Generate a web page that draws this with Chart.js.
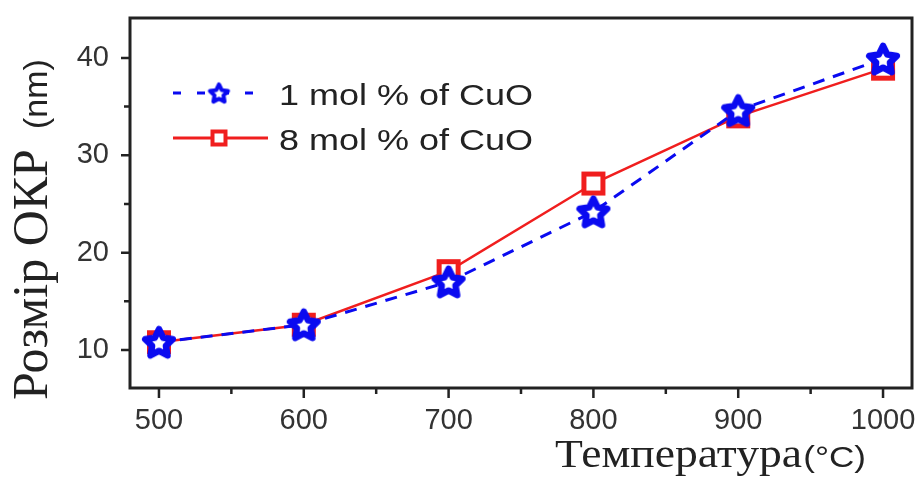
<!DOCTYPE html>
<html>
<head>
<meta charset="utf-8">
<script src="https://cdn.jsdelivr.net/npm/chart.js@4.4.1/dist/chart.umd.min.js"></script>
<style>
  html, body { margin: 0; padding: 0; background: #fff; }
  #wrap { width: 920px; height: 481px; }
</style>
</head>
<body>
<div id="wrap"><canvas id="sizeChart" width="920" height="481"></canvas></div>
<script>
// --- data ---
const temperatures = [500, 600, 700, 800, 900, 1000];
const size1mol = [10.8, 12.6, 17.0, 24.2, 34.6, 39.9];
const size8mol = [10.8, 12.6, 18.1, 27.1, 34.0, 38.9];
const seriesLabels = ['1 mol % of CuO', '8 mol % of CuO'];
const xTicks = [500, 600, 700, 800, 900, 1000];
const xMinorTicks = [550, 650, 750, 850, 950];
const yTicks = [10, 20, 30, 40];
const yMinorTicks = [15, 25, 35];

const BLUE = '#0a0af0';
const RED = '#f01e1e';
const INK = '#222';

// five-pointed star marker (Chart.js 'star' is an asterisk, so draw our own)
function makeStar(R, lw) {
    const size = Math.ceil(2 * R + lw + 2);
    const c = document.createElement('canvas');
    c.width = c.height = size;
    const ctx = c.getContext('2d');
    ctx.translate(size / 2, size / 2 + R * 0.1);
    ctx.beginPath();
    for (let i = 0; i < 10; i++) {
        const a = -Math.PI / 2 + i * Math.PI / 5;
        const r = i % 2 ? R * 0.5 : R;
        const px = Math.cos(a) * r, py = Math.sin(a) * r;
        i === 0 ? ctx.moveTo(px, py) : ctx.lineTo(px, py);
    }
    ctx.closePath();
    ctx.fillStyle = '#fff';
    ctx.fill();
    ctx.lineJoin = 'round';
    ctx.lineWidth = lw;
    ctx.strokeStyle = BLUE;
    ctx.stroke();
    return c;
}

function makeSquare(side, lw) {
    const size = Math.ceil(side + lw + 2);
    const c = document.createElement('canvas');
    c.width = c.height = size;
    const ctx = c.getContext('2d');
    const o = (size - side) / 2;
    ctx.fillStyle = '#fff';
    ctx.fillRect(o, o, side, side);
    ctx.lineWidth = lw;
    ctx.strokeStyle = RED;
    ctx.strokeRect(o, o, side, side);
    return c;
}

const starMark = makeStar(14.5, 6.5);
const squareMark = makeSquare(19, 5);
const starSmall = makeStar(9.5, 4);
const squareSmall = makeSquare(13, 4);

// frame, tick marks, axis titles and the inset legend
const decorPlugin = {
    id: 'decor',
    afterDraw(chart) {
        const { ctx, chartArea: a, scales } = chart;
        const xs = scales.x, ys = scales.y;
        ctx.save();
        ctx.strokeStyle = INK;
        ctx.lineWidth = 3;
        ctx.strokeRect(a.left, a.top, a.right - a.left, a.bottom - a.top);

        ctx.lineWidth = 2.5;
        ctx.beginPath();
        xTicks.forEach(v => { const p = xs.getPixelForValue(v); ctx.moveTo(p, a.bottom); ctx.lineTo(p, a.bottom + 10); });
        xMinorTicks.forEach(v => { const p = xs.getPixelForValue(v); ctx.moveTo(p, a.bottom); ctx.lineTo(p, a.bottom + 6); });
        yTicks.forEach(v => { const p = ys.getPixelForValue(v); ctx.moveTo(a.left, p); ctx.lineTo(a.left - 9, p); });
        yMinorTicks.forEach(v => { const p = ys.getPixelForValue(v); ctx.moveTo(a.left, p); ctx.lineTo(a.left - 6, p); });
        ctx.stroke();

        // y title: serif words + sans unit, rotated
        ctx.fillStyle = INK;
        ctx.textBaseline = 'alphabetic';
        ctx.textAlign = 'left';
        ctx.save();
        ctx.translate(47, 400);
        ctx.rotate(-Math.PI / 2);
        ctx.font = '50px "Liberation Serif", "Times New Roman", serif';
        ctx.fillText('Розмір ОКР', 0, 0);
        const w1 = ctx.measureText('Розмір ОКР').width;
        ctx.font = '34px "Liberation Sans", Arial, sans-serif';
        ctx.fillText('(nm)', w1 + 20, 0);
        ctx.restore();

        // x title
        ctx.save();
        ctx.translate(555, 467);
        ctx.scale(1.17, 1);
        ctx.font = '39px "Liberation Serif", "Times New Roman", serif';
        ctx.fillText('Температура', 0, 0);
        const w2 = ctx.measureText('Температура').width;
        ctx.font = '30px "Liberation Sans", Arial, sans-serif';
        ctx.fillText('(°C)', w2 + 1, 0);
        ctx.restore();

        // legend
        const rows = [
            { y: 93, color: BLUE, dash: [8, 16], mark: starSmall, width: 3, text: seriesLabels[0] },
            { y: 138, color: RED, dash: [], mark: squareSmall, width: 3, text: seriesLabels[1] }
        ];
        rows.forEach(r => {
            ctx.save();
            ctx.strokeStyle = r.color;
            ctx.lineWidth = r.width;
            ctx.setLineDash(r.dash);
            ctx.beginPath();
            ctx.moveTo(173, r.y);
            ctx.lineTo(268, r.y);
            ctx.stroke();
            ctx.restore();
            ctx.drawImage(r.mark, 219 - r.mark.width / 2, r.y - r.mark.height / 2);
            ctx.save();
            ctx.translate(279, r.y + 12);
            ctx.scale(1.2, 1);
            ctx.font = '30px "Liberation Sans", Arial, sans-serif';
            ctx.fillStyle = INK;
            ctx.fillText(r.text, 0, 0);
            ctx.restore();
        });
        ctx.restore();
    }
};

const ctx = document.getElementById('sizeChart').getContext('2d');
new Chart(ctx, {
    type: 'line',
    data: {
        datasets: [
            {
                label: seriesLabels[0],
                data: temperatures.map((t, i) => ({ x: t, y: size1mol[i] })),
                borderColor: BLUE,
                borderWidth: 3,
                borderDash: [12, 9],
                pointStyle: starMark,
                pointRadius: 15,
                fill: false,
                tension: 0
            },
            {
                label: seriesLabels[1],
                data: temperatures.map((t, i) => ({ x: t, y: size8mol[i] })),
                borderColor: RED,
                borderWidth: 2.5,
                pointStyle: squareMark,
                pointRadius: 13,
                fill: false,
                tension: 0
            }
        ]
    },
    options: {
        responsive: false,
        animation: false,
        devicePixelRatio: 1,
        layout: { autoPadding: false, padding: { left: 0, top: 18, right: 8, bottom: 0 } },
        plugins: { legend: { display: false }, tooltip: { enabled: false } },
        scales: {
            x: {
                type: 'linear',
                min: 480,
                max: 1020,
                grid: { display: false },
                border: { display: false },
                afterBuildTicks: s => { s.ticks = xTicks.map(v => ({ value: v })); },
                afterFit: s => { s.height = 93; s.paddingLeft = 0; s.paddingRight = 0; },
                ticks: {
                    color: '#333',
                    padding: 8,
                    maxRotation: 0,
                    autoSkip: false,
                    callback: v => String(v),
                    font: { family: '"Liberation Sans", Arial, sans-serif', size: 29 }
                }
            },
            y: {
                min: 6.1,
                max: 44.1,
                grid: { display: false },
                border: { display: false },
                afterBuildTicks: s => { s.ticks = yTicks.map(v => ({ value: v })); },
                afterFit: s => { s.width = 130; s.paddingTop = 0; s.paddingBottom = 0; },
                ticks: {
                    color: '#333',
                    padding: 13,
                    callback: v => String(v),
                    font: { family: '"Liberation Sans", Arial, sans-serif', size: 29 }
                }
            }
        }
    },
    plugins: [decorPlugin]
});
</script>
</body>
</html>
